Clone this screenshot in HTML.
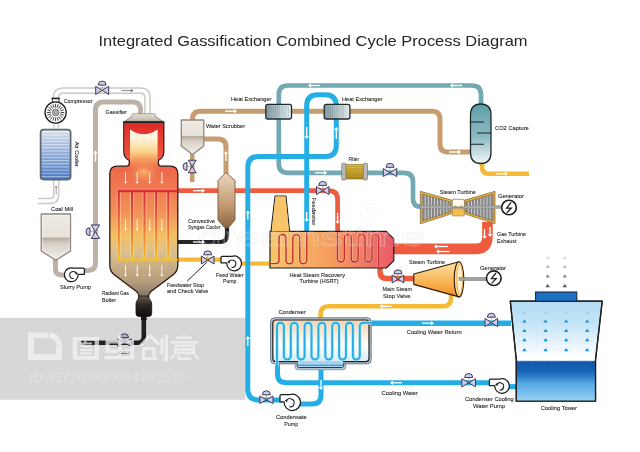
<!DOCTYPE html>
<html><head><meta charset="utf-8"><style>
html,body{margin:0;padding:0;background:#fff;}
svg{display:block;font-family:"Liberation Sans", sans-serif;}
</style></head><body>
<svg width="640" height="452" viewBox="0 0 640 452">
<rect width="640" height="452" fill="#fff"/>
<defs>
<linearGradient id="gTop" x1="0" y1="0" x2="0" y2="1">
 <stop offset="0" stop-color="#dc2a28"/><stop offset="0.3" stop-color="#e63a30"/><stop offset="1" stop-color="#ee5a42"/>
</linearGradient>
<radialGradient id="gGlow" cx="0.5" cy="0.55" r="0.6">
 <stop offset="0" stop-color="#fffbe8"/><stop offset="0.45" stop-color="#fde6b0"/><stop offset="1" stop-color="#f6a060" stop-opacity="0"/>
</radialGradient>
<linearGradient id="gBody" x1="0" y1="0" x2="0" y2="1">
 <stop offset="0" stop-color="#eb5243"/><stop offset="0.28" stop-color="#ee6a4c"/><stop offset="0.5" stop-color="#f29058"/><stop offset="0.64" stop-color="#f5c060"/><stop offset="0.73" stop-color="#dcc090"/><stop offset="0.9" stop-color="#b49c7c"/><stop offset="1" stop-color="#7a6a58"/>
</linearGradient>
<linearGradient id="gGlow2" x1="0" y1="0" x2="0" y2="1">
 <stop offset="0" stop-color="#fffaf2"/><stop offset="0.25" stop-color="#fff0d4"/><stop offset="0.55" stop-color="#fcd48a"/><stop offset="0.8" stop-color="#f7a860" stop-opacity="0.7"/><stop offset="1" stop-color="#f07050" stop-opacity="0"/>
</linearGradient>
<radialGradient id="gGlow3" cx="0.5" cy="0.5" r="0.5">
 <stop offset="0" stop-color="#f9c070" stop-opacity="0.9"/><stop offset="1" stop-color="#f08050" stop-opacity="0"/>
</radialGradient>
<linearGradient id="gTube" x1="0" y1="0" x2="0" y2="1">
 <stop offset="0" stop-color="#d9243a"/><stop offset="0.5" stop-color="#ec6a3a"/><stop offset="1" stop-color="#f7c21a"/>
</linearGradient>
<linearGradient id="gNeck" x1="0" y1="0" x2="0" y2="1">
 <stop offset="0" stop-color="#6a5c4c"/><stop offset="0.45" stop-color="#2a2622"/><stop offset="1" stop-color="#0e0e0e"/>
</linearGradient>
<linearGradient id="gCap" x1="0" y1="0" x2="0" y2="1">
 <stop offset="0" stop-color="#ebe6dc"/><stop offset="1" stop-color="#b5aca0"/>
</linearGradient>
<linearGradient id="gAir" x1="0" y1="0" x2="0" y2="1">
 <stop offset="0" stop-color="#e2e6ee"/><stop offset="0.4" stop-color="#a0b8de"/><stop offset="1" stop-color="#4878c4"/>
</linearGradient>
<pattern id="pStripe" width="4" height="3.2" patternUnits="userSpaceOnUse">
 <rect width="4" height="1.1" fill="#ffffff" fill-opacity="0.45"/><rect y="2.1" width="4" height="0.6" fill="#2a4a80" fill-opacity="0.15"/>
</pattern>
<linearGradient id="gMill" x1="0" y1="0" x2="0" y2="1">
 <stop offset="0" stop-color="#efebe5"/><stop offset="0.5" stop-color="#e6e0d8"/><stop offset="0.52" stop-color="#b5aa9e"/><stop offset="0.64" stop-color="#d8d0c6"/><stop offset="1" stop-color="#f2efea"/>
</linearGradient>
<linearGradient id="gScrub" x1="0" y1="0" x2="0" y2="1">
 <stop offset="0" stop-color="#efebe5"/><stop offset="0.45" stop-color="#e6e0d8"/><stop offset="0.47" stop-color="#b5aa9e"/><stop offset="0.62" stop-color="#d8d0c6"/><stop offset="1" stop-color="#f2efea"/>
</linearGradient>
<linearGradient id="gCool" x1="0" y1="0" x2="0" y2="1">
 <stop offset="0" stop-color="#e9d7c0"/><stop offset="0.6" stop-color="#c39a70"/><stop offset="1" stop-color="#8a6644"/>
</linearGradient>
<linearGradient id="gHX" x1="0" y1="0" x2="1" y2="0">
 <stop offset="0" stop-color="#7f9ba0"/><stop offset="0.5" stop-color="#b4c6ca"/><stop offset="1" stop-color="#eef2f3"/>
</linearGradient>
<pattern id="pHX" width="2.2" height="10" patternUnits="userSpaceOnUse">
 <rect width="0.7" height="10" fill="#30484e" fill-opacity="0.2"/>
</pattern>
<linearGradient id="gCO2" x1="0" y1="0" x2="0" y2="1">
 <stop offset="0" stop-color="#5f9ea8"/><stop offset="0.55" stop-color="#8dbac2"/><stop offset="1" stop-color="#f2f6f6"/>
</linearGradient>
<linearGradient id="gFilt" x1="0" y1="0" x2="0" y2="1">
 <stop offset="0" stop-color="#e1c040"/><stop offset="1" stop-color="#b08d20"/>
</linearGradient>
<linearGradient id="gHRSG" x1="0" y1="0" x2="1" y2="0">
 <stop offset="0" stop-color="#f8c66a"/><stop offset="0.5" stop-color="#f59c5c"/><stop offset="1" stop-color="#ea5a6a"/>
</linearGradient>
<linearGradient id="gCone" x1="0" y1="0" x2="0" y2="1">
 <stop offset="0" stop-color="#fde2a6"/><stop offset="0.6" stop-color="#f8b350"/><stop offset="1" stop-color="#f08a20"/>
</linearGradient>
<linearGradient id="gCond" x1="0" y1="0" x2="0" y2="1">
 <stop offset="0" stop-color="#f5d3a8"/><stop offset="0.6" stop-color="#ffffff"/><stop offset="1" stop-color="#d8ecf8"/>
</linearGradient>
<linearGradient id="gTowerTop" x1="0" y1="0" x2="0" y2="1">
 <stop offset="0" stop-color="#b2dbf4"/><stop offset="0.22" stop-color="#c4e4f7"/><stop offset="0.44" stop-color="#eaf5fc"/><stop offset="0.56" stop-color="#ffffff"/><stop offset="1" stop-color="#ffffff"/>
</linearGradient>
<linearGradient id="gWater" x1="0" y1="0" x2="0" y2="1">
 <stop offset="0" stop-color="#0f57a8"/><stop offset="0.28" stop-color="#1566b8"/><stop offset="0.58" stop-color="#5aaae4"/><stop offset="1" stop-color="#98d4f6"/>
</linearGradient>
</defs>
<text x="98.5" y="45.8" font-size="14.6" textLength="429" lengthAdjust="spacingAndGlyphs" fill="#262626" stroke="#262626" stroke-width="0" >Integrated Gassification Combined Cycle Process Diagram</text>
<path d="M56,98 L56.00,97.60 Q56,90.6 63.00,90.60 L140.50,90.60 Q147.5,90.6 147.50,97.60 L147.5,114" fill="none" stroke="#cdc8c2" stroke-width="6.6" />
<path d="M56,98 L56.00,97.60 Q56,90.6 63.00,90.60 L140.50,90.60 Q147.5,90.6 147.50,97.60 L147.5,114" fill="none" stroke="#fff" stroke-width="3.6" />
<path d="M56.2,179 L56.20,195.00 Q56.2,201 50.20,201.00 L38,201" fill="none" stroke="#cdc8c2" stroke-width="6.4" />
<path d="M56.2,179 L56.20,195.00 Q56.2,201 50.20,201.00 L38,201" fill="none" stroke="#fff" stroke-width="3.4" />
<path d="M53.8,123 V129.5 M58.2,123 V129.5" stroke="#cdc8c2" stroke-width="1.2"/>
<path d="M84,270.6 L87.50,270.60 Q95.5,270.6 95.50,262.60 L95.50,110.00 Q95.5,102 103.50,102.00 L132.50,102.00 Q140.5,102 140.50,110.00 L140.5,114" fill="none" stroke="#bcb2a7" stroke-width="5" />
<path d="M55.5,258 L55.50,269.00 Q55.5,275 61.50,275.00 L66,275" fill="none" stroke="#bcb2a7" stroke-width="5" />
<path d="M192.5,121 L192.50,119.20 Q192.5,111.2 200.50,111.20 L432.00,111.20 Q440,111.2 440.00,119.20 L440.00,144.00 Q440,152 448.00,152.00 L471,152" fill="none" stroke="#c79c6e" stroke-width="5" />
<path d="M203,139 L218.00,139.00 Q226,139 226.00,147.00 L226,174" fill="none" stroke="#c79c6e" stroke-width="5" />
<path d="M192.2,154 L192.2,182" fill="none" stroke="#c79c6e" stroke-width="4.5" />
<path d="M481,106 L481.00,94.50 Q481,85.5 472.00,85.50 L287.80,85.50 Q278.8,85.5 278.80,94.50 L278.80,163.80 Q278.8,172.8 287.80,172.80 L404.00,172.80 Q413,172.8 413.00,181.80 L413.00,198.80 Q413,206.8 421.00,206.80 L421,206.8" fill="none" stroke="#72a9b3" stroke-width="4.7" />
<path d="M177,190.7 L328.60,190.70 Q337.6,190.7 337.60,199.70 L337.6,232" fill="none" stroke="#ef5b3e" stroke-width="4.7" />
<path d="M487.4,222 L487.40,236.90 Q487.4,248.9 475.40,248.90 L392,248.9" fill="none" stroke="#ef5b3e" stroke-width="10.6" />
<path d="M380,266 L380.00,271.50 Q380,278.5 387.00,278.50 L414,278.5" fill="none" stroke="#ef5b3e" stroke-width="5.5" />
<path d="M177,259.6 L222,259.6" fill="none" stroke="#f6b935" stroke-width="4.2" />
<path d="M238,263.6 L270,263.6" fill="none" stroke="#f6b935" stroke-width="4.2" />
<path d="M482,162 L482.00,166.80 Q482,173.8 489.00,173.80 L529,173.8" fill="none" stroke="#f6b935" stroke-width="4.6" />
<path d="M320.6,319 L320.60,314.30 Q320.6,306.3 328.60,306.30 L443.00,306.30 Q451,306.3 451.00,298.30 L451,294" fill="none" stroke="#f6b935" stroke-width="4.6" />
<path d="M177,242 L220.00,242.00 Q227,242 227.00,235.00 L227,226" fill="none" stroke="#262626" stroke-width="4.2" />
<path d="M143.8,315 L143.80,336.70 Q143.8,342.7 137.80,342.70 L81,342.7" fill="none" stroke="#262626" stroke-width="4.6" />
<path d="M321,368 L321.00,394.90 Q321,403.9 312.00,403.90 L288,403.9" fill="none" stroke="#25aee6" stroke-width="5" />
<path d="M283,400 L258.80,400.00 Q247.8,400 247.80,389.00 L247.80,167.40 Q247.8,156.4 258.80,156.40 L325.30,156.40 Q336.3,156.4 336.30,145.40 L336.30,105.80 Q336.3,94.8 325.30,94.80 L317.70,94.80 Q306.7,94.8 306.70,105.80 L306.7,232" fill="none" stroke="#25aee6" stroke-width="5" />
<path d="M517,386.6 L498,386.6" fill="none" stroke="#25aee6" stroke-width="5" />
<path d="M492,382.8 L286.50,382.80 Q277.5,382.8 277.50,373.80 L277.5,362" fill="none" stroke="#25aee6" stroke-width="5" />
<path d="M370,323.2 L511,323.2" fill="none" stroke="#25aee6" stroke-width="5.4" />
<path d="M121.4,90.6 H132.4" stroke="#777" stroke-width="0.9"/><path d="M133.4,90.6 l-2.52,-1.8 v3.6 z" fill="#777"/>
<path d="M56.2,194.5 V186.5" stroke="#999" stroke-width="0.9"/><path d="M56.2,185.5 l-1.6,2.2399999999999998 h3.2 z" fill="#999"/>
<path d="M95.5,161.5 V151.5" stroke="#fff" stroke-width="1.3"/><path d="M95.5,150.5 l-2.2,3.08 h4.4 z" fill="#fff"/>
<path d="M225.0,111.2 H236.0" stroke="#fff" stroke-width="1.3"/><path d="M237.0,111.2 l-3.08,-2.2 v4.4 z" fill="#fff"/>
<path d="M226,161.0 V152.0" stroke="#fff" stroke-width="1.3"/><path d="M226,151.0 l-2.2,3.08 h4.4 z" fill="#fff"/>
<path d="M449.0,152 H460.0" stroke="#fff" stroke-width="1.3"/><path d="M461.0,152 l-3.08,-2.2 v4.4 z" fill="#fff"/>
<path d="M320.0,85.5 H309.0" stroke="#fff" stroke-width="1.3"/><path d="M308.0,85.5 l3.08,-2.2 v4.4 z" fill="#fff"/>
<path d="M462.0,85.5 H451.0" stroke="#fff" stroke-width="1.3"/><path d="M450.0,85.5 l3.08,-2.2 v4.4 z" fill="#fff"/>
<path d="M315.0,172.8 H326.0" stroke="#fff" stroke-width="1.3"/><path d="M327.0,172.8 l-3.08,-2.2 v4.4 z" fill="#fff"/>
<path d="M193.0,190.7 H204.0" stroke="#fff" stroke-width="1.3"/><path d="M205.0,190.7 l-3.08,-2.2 v4.4 z" fill="#fff"/>
<path d="M193.0,242 H204.0" stroke="#fff" stroke-width="1.3"/><path d="M205.0,242 l-3.08,-2.2 v4.4 z" fill="#fff"/>
<path d="M306.7,127.0 V138.0" stroke="#fff" stroke-width="1.3"/><path d="M306.7,139.0 l-2.2,-3.08 h4.4 z" fill="#fff"/>
<path d="M336.3,139.0 V128.0" stroke="#fff" stroke-width="1.3"/><path d="M336.3,127.0 l-2.2,3.08 h4.4 z" fill="#fff"/>
<path d="M306.7,212.0 V221.0" stroke="#fff" stroke-width="1.3"/><path d="M306.7,222.0 l-2.2,-3.08 h4.4 z" fill="#fff"/>
<path d="M337.6,213.0 V223.0" stroke="#fff" stroke-width="1.3"/><path d="M337.6,224.0 l-2.2,-3.08 h4.4 z" fill="#fff"/>
<path d="M247.8,219.5 V211.5" stroke="#fff" stroke-width="1.3"/><path d="M247.8,210.5 l-2.2,3.08 h4.4 z" fill="#fff"/>
<path d="M247.8,346.0 V337.0" stroke="#fff" stroke-width="1.3"/><path d="M247.8,336.0 l-2.2,3.08 h4.4 z" fill="#fff"/>
<path d="M321,380.0 V389.0" stroke="#fff" stroke-width="1.3"/><path d="M321,390.0 l-2.2,-3.08 h4.4 z" fill="#fff"/>
<path d="M422.0,323.2 H433.0" stroke="#fff" stroke-width="1.3"/><path d="M434.0,323.2 l-3.08,-2.2 v4.4 z" fill="#fff"/>
<path d="M402.0,382.8 H391.0" stroke="#fff" stroke-width="1.3"/><path d="M390.0,382.8 l3.08,-2.2 v4.4 z" fill="#fff"/>
<path d="M391.5,306.3 H380.5" stroke="#fff" stroke-width="1.3"/><path d="M379.5,306.3 l3.08,-2.2 v4.4 z" fill="#fff"/>
<path d="M496.0,173.8 H507.0" stroke="#fff" stroke-width="1.3"/><path d="M508.0,173.8 l-3.08,-2.2 v4.4 z" fill="#fff"/>
<path d="M484.5,229.0 V238.0" stroke="#fff" stroke-width="1.3"/><path d="M484.5,239.0 l-2.2,-3.08 h4.4 z" fill="#fff"/>
<path d="M490,227.0 V236.0" stroke="#fff" stroke-width="1.3"/><path d="M490,237.0 l-2.2,-3.08 h4.4 z" fill="#fff"/>
<path d="M448.0,246.5 H435.0" stroke="#fff" stroke-width="1.3"/><path d="M434.0,246.5 l3.08,-2.2 v4.4 z" fill="#fff"/>
<path d="M450.0,251.5 H437.0" stroke="#fff" stroke-width="1.3"/><path d="M436.0,251.5 l3.08,-2.2 v4.4 z" fill="#fff"/>
<rect x="52.3" y="98.6" width="6.7" height="3.8" fill="#fff" stroke="#222" stroke-width="0.9"/>
<rect x="51.6" y="97.6" width="8.1" height="1.6" fill="#222"/>
<circle cx="55.6" cy="112.5" r="10.6" fill="#fff" stroke="#1e1e1e" stroke-width="1.3"/>
<line x1="60.60" y1="112.50" x2="64.30" y2="112.50" stroke="#3a3a3a" stroke-width="0.95"/>
<line x1="60.36" y1="114.05" x2="63.87" y2="115.19" stroke="#3a3a3a" stroke-width="0.95"/>
<line x1="59.65" y1="115.44" x2="62.64" y2="117.61" stroke="#3a3a3a" stroke-width="0.95"/>
<line x1="58.54" y1="116.55" x2="60.71" y2="119.54" stroke="#3a3a3a" stroke-width="0.95"/>
<line x1="57.15" y1="117.26" x2="58.29" y2="120.77" stroke="#3a3a3a" stroke-width="0.95"/>
<line x1="55.60" y1="117.50" x2="55.60" y2="121.20" stroke="#3a3a3a" stroke-width="0.95"/>
<line x1="54.05" y1="117.26" x2="52.91" y2="120.77" stroke="#3a3a3a" stroke-width="0.95"/>
<line x1="52.66" y1="116.55" x2="50.49" y2="119.54" stroke="#3a3a3a" stroke-width="0.95"/>
<line x1="51.55" y1="115.44" x2="48.56" y2="117.61" stroke="#3a3a3a" stroke-width="0.95"/>
<line x1="50.84" y1="114.05" x2="47.33" y2="115.19" stroke="#3a3a3a" stroke-width="0.95"/>
<line x1="50.60" y1="112.50" x2="46.90" y2="112.50" stroke="#3a3a3a" stroke-width="0.95"/>
<line x1="50.84" y1="110.95" x2="47.33" y2="109.81" stroke="#3a3a3a" stroke-width="0.95"/>
<line x1="51.55" y1="109.56" x2="48.56" y2="107.39" stroke="#3a3a3a" stroke-width="0.95"/>
<line x1="52.66" y1="108.45" x2="50.49" y2="105.46" stroke="#3a3a3a" stroke-width="0.95"/>
<line x1="54.05" y1="107.74" x2="52.91" y2="104.23" stroke="#3a3a3a" stroke-width="0.95"/>
<line x1="55.60" y1="107.50" x2="55.60" y2="103.80" stroke="#3a3a3a" stroke-width="0.95"/>
<line x1="57.15" y1="107.74" x2="58.29" y2="104.23" stroke="#3a3a3a" stroke-width="0.95"/>
<line x1="58.54" y1="108.45" x2="60.71" y2="105.46" stroke="#3a3a3a" stroke-width="0.95"/>
<line x1="59.65" y1="109.56" x2="62.64" y2="107.39" stroke="#3a3a3a" stroke-width="0.95"/>
<line x1="60.36" y1="110.95" x2="63.87" y2="109.81" stroke="#3a3a3a" stroke-width="0.95"/>
<circle cx="55.6" cy="112.5" r="3.3" fill="#a9a9a9" stroke="#555" stroke-width="0.7"/>
<rect x="40.6" y="129.6" width="30" height="50" rx="3" fill="url(#gAir)" stroke="#5d6874" stroke-width="1.7"/>
<rect x="42" y="131" width="27.2" height="47.2" fill="url(#pStripe)"/>
<text x="0" y="0" font-size="6" textLength="25" lengthAdjust="spacingAndGlyphs" fill="#262626" stroke="#262626" stroke-width="0.1" transform="translate(74.6,141.7) rotate(90)">Air Cooler</text>
<path d="M41.2,214 H70.5 V251 L55.8,260.3 L41.2,251 Z" fill="url(#gMill)" stroke="#8f8880" stroke-width="1.3" stroke-linejoin="round"/>
<path d="M42.8,215.5 H68.9 V250.2 L55.8,258.4 L42.8,250.2 Z" fill="none" stroke="#fff" stroke-width="0.6" stroke-opacity="0.7"/>
<path d="M73.2,268.1 H83.2 Q84.4,268.1 84.4,269.3 V274.31 H78.17 A6.9,6.9 0 1 1 73.2,268.1 Z" fill="#fff" stroke="#1e1e1e" stroke-width="1.25" stroke-linejoin="round"/>
<path d="M76.31,273.62 A3.45,3.45 0 1 0 73.72,278.45" fill="none" stroke="#1e1e1e" stroke-width="1.05"/>
<path d="M77.91,273.32 l-2.40,-1.7 l0.2,3.3 z" fill="#1e1e1e"/>
<path d="M91.15,224.95 L95.4,231.7 L99.65,224.95 Z M91.15,238.45 L95.4,231.7 L99.65,238.45 Z" fill="#d0cbec" stroke="#2e2e4a" stroke-width="0.9" stroke-linejoin="round"/>
<path d="M95.4,231.7 H89.65" stroke="#999" stroke-width="0.7"/>
<path d="M89.95,227.7 A4,4 0 0 0 89.95,235.7 Z" fill="#d0cbec" stroke="#2e2e4a" stroke-width="0.9"/>
<path d="M132,113.8 H155 V116.2 L163.8,122 H123.8 L132,116.2 Z" fill="url(#gCap)" stroke="#555" stroke-width="0.6"/>
<rect x="132" y="113.8" width="23" height="2.4" fill="#d8d2c8"/>
<path d="M123.8,122 H163.8 V151 Q163.8,158.3 158.3,160.3 V163 Q158.3,166.2 162,166.2 H170 Q177.8,166.2 177.8,174 V265 Q177.8,271 173.5,274.5 L151,291.5 Q148.5,293.5 148.5,296.5 V300 H139 V296.5 Q139,293.5 136.5,291.5 L114,274.5 Q109.8,271 109.8,265 V174 Q109.8,166.2 117.5,166.2 H125.6 Q129.3,166.2 129.3,163 V160.3 Q123.8,158.3 123.8,151 Z" fill="url(#gBody)" stroke="#2a1a14" stroke-width="1.3" stroke-linejoin="round"/>
<path d="M124.5,122.7 H163.1 V151 Q163.1,157.8 157.6,159.8 V164 H130 V159.8 Q124.5,157.8 124.5,151 Z" fill="url(#gTop)"/>
<ellipse cx="143.8" cy="172" rx="17" ry="13" fill="url(#gGlow3)"/>
<path d="M130,129.5 Q143.8,139 157.6,129.5 V170 H130 Z" fill="url(#gGlow2)"/>
<line x1="123.8" y1="122.4" x2="163.8" y2="122.4" stroke="#222" stroke-width="1.1"/>
<rect x="116.8" y="190" width="4" height="70.5" fill="#fbe0c0" fill-opacity="0.45"/>
<rect x="130" y="190" width="4" height="70.5" fill="#fbe0c0" fill-opacity="0.45"/>
<rect x="142.5" y="190" width="4" height="70.5" fill="#fbe0c0" fill-opacity="0.45"/>
<rect x="154.2" y="190" width="4" height="70.5" fill="#fbe0c0" fill-opacity="0.45"/>
<rect x="166.3" y="190" width="4" height="70.5" fill="#fbe0c0" fill-opacity="0.45"/>
<rect x="117.8" y="190.2" width="2" height="70" fill="url(#gTube)"/>
<rect x="131" y="190.2" width="2" height="70" fill="url(#gTube)"/>
<rect x="143.5" y="190.2" width="2" height="70" fill="url(#gTube)"/>
<rect x="155.2" y="190.2" width="2" height="70" fill="url(#gTube)"/>
<rect x="167.3" y="190.2" width="2" height="70" fill="url(#gTube)"/>
<rect x="117.8" y="190.2" width="60" height="2" fill="#d9243a"/>
<rect x="117.8" y="258.6" width="60" height="2" fill="#f7c21a"/>
<path d="M125.5,172.25 V182.75" stroke="#fff" stroke-width="0.9"/><path d="M125.5,183.75 l-1.5,-2.0999999999999996 h3.0 z" fill="#fff"/>
<path d="M125.5,219.25 V229.75" stroke="#fff" stroke-width="0.9"/><path d="M125.5,230.75 l-1.5,-2.0999999999999996 h3.0 z" fill="#fff"/>
<path d="M125.5,265.25 V275.75" stroke="#fff" stroke-width="0.9"/><path d="M125.5,276.75 l-1.5,-2.0999999999999996 h3.0 z" fill="#fff"/>
<path d="M137.2,172.25 V182.75" stroke="#fff" stroke-width="0.9"/><path d="M137.2,183.75 l-1.5,-2.0999999999999996 h3.0 z" fill="#fff"/>
<path d="M137.2,219.25 V229.75" stroke="#fff" stroke-width="0.9"/><path d="M137.2,230.75 l-1.5,-2.0999999999999996 h3.0 z" fill="#fff"/>
<path d="M137.2,265.25 V275.75" stroke="#fff" stroke-width="0.9"/><path d="M137.2,276.75 l-1.5,-2.0999999999999996 h3.0 z" fill="#fff"/>
<path d="M149.7,172.25 V182.75" stroke="#fff" stroke-width="0.9"/><path d="M149.7,183.75 l-1.5,-2.0999999999999996 h3.0 z" fill="#fff"/>
<path d="M149.7,219.25 V229.75" stroke="#fff" stroke-width="0.9"/><path d="M149.7,230.75 l-1.5,-2.0999999999999996 h3.0 z" fill="#fff"/>
<path d="M149.7,265.25 V275.75" stroke="#fff" stroke-width="0.9"/><path d="M149.7,276.75 l-1.5,-2.0999999999999996 h3.0 z" fill="#fff"/>
<path d="M161.9,172.25 V182.75" stroke="#fff" stroke-width="0.9"/><path d="M161.9,183.75 l-1.5,-2.0999999999999996 h3.0 z" fill="#fff"/>
<path d="M161.9,219.25 V229.75" stroke="#fff" stroke-width="0.9"/><path d="M161.9,230.75 l-1.5,-2.0999999999999996 h3.0 z" fill="#fff"/>
<path d="M161.9,265.25 V275.75" stroke="#fff" stroke-width="0.9"/><path d="M161.9,276.75 l-1.5,-2.0999999999999996 h3.0 z" fill="#fff"/>
<path d="M139,296 H148.5 Q149,299 150.5,300.5 Q151.7,301.8 151.7,304 V313.5 Q151.7,316.5 148.7,316.5 H139 Q136,316.5 136,313.5 V304 Q136,301.8 137.2,300.5 Q138.5,299 139,296 Z" fill="url(#gNeck)" stroke="#111" stroke-width="0.8"/>
<rect x="141" y="316" width="5.6" height="4" fill="#151515"/>
<path d="M181.3,120 H203.8 V146 L192.5,154.4 L181.3,146 Z" fill="url(#gScrub)" stroke="#8f8880" stroke-width="1.3" stroke-linejoin="round"/>
<path d="M188.2,160.25 L192.2,166.5 L196.2,160.25 Z M188.2,172.75 L192.2,166.5 L196.2,172.75 Z" fill="#d0cbec" stroke="#2e2e4a" stroke-width="0.9" stroke-linejoin="round"/>
<path d="M192.2,166.5 H186.7" stroke="#999" stroke-width="0.7"/>
<path d="M187.0,162.5 A4,4 0 0 0 187.0,170.5 Z" fill="#d0cbec" stroke="#2e2e4a" stroke-width="0.9"/>
<path d="M226,172.5 L235,180.6 V220 L228.5,227.5 H224.5 L218,220 V180.6 Z" fill="url(#gCool)" stroke="#7a5a3a" stroke-width="0.9" stroke-linejoin="round"/>
<path d="M201.39999999999998,256.0 L207.7,260 L201.39999999999998,264.0 Z M214.0,256.0 L207.7,260 L214.0,264.0 Z" fill="#d0cbec" stroke="#2e2e4a" stroke-width="0.9" stroke-linejoin="round"/>
<path d="M207.7,260 V254.5" stroke="#999" stroke-width="0.7"/>
<path d="M203.7,254.8 A4,4 0 0 1 211.7,254.8 Z" fill="#d0cbec" stroke="#2e2e4a" stroke-width="0.9"/>
<path d="M206.9,262.2 L187.3,281" stroke="#222" stroke-width="1.0"/>
<path d="M232.1,256.3 H222.2 Q221.0,256.3 221.0,257.5 V262.96000000000004 H226.77 A7.4,7.4 0 1 0 232.1,256.3 Z" fill="#fff" stroke="#1e1e1e" stroke-width="1.25" stroke-linejoin="round"/>
<path d="M228.77,262.22 A3.70,3.70 0 1 1 231.54,267.40" fill="none" stroke="#1e1e1e" stroke-width="1.05"/>
<path d="M227.17,261.92 l2.40,-1.7 l0.2,3.3 z" fill="#1e1e1e"/>
<rect x="265.8" y="104.4" width="25.7" height="14.6" rx="2" fill="url(#gHX)" stroke="#1f2a2e" stroke-width="1.3"/>
<rect x="267.3" y="105.8" width="22.7" height="11.8" fill="url(#pHX)"/>
<rect x="324.2" y="104.4" width="25.7" height="14.6" rx="2" fill="url(#gHX)" stroke="#1f2a2e" stroke-width="1.3"/>
<rect x="325.7" y="105.8" width="22.7" height="11.8" fill="url(#pHX)"/>
<path d="M470.5,115 C470.5,107 475,104 480.8,104 C486.5,104 491,107 491,115 V152.5 C491,160.5 486.5,163.5 480.8,163.5 C475,163.5 470.5,160.5 470.5,152.5 Z" fill="url(#gCO2)" stroke="#1f2a2e" stroke-width="1.3"/>
<path d="M470.5,122 H484 M477,133 H491 M470.5,144.3 H484" stroke="#1a2226" stroke-width="1.1"/>
<rect x="344.5" y="164.5" width="20" height="14.5" fill="url(#gFilt)" stroke="#7a6418" stroke-width="0.6"/>
<line x1="345" y1="166.5" x2="364" y2="166.5" stroke="#8a7018" stroke-width="0.5" stroke-opacity="0.6"/>
<line x1="345" y1="168.7" x2="364" y2="168.7" stroke="#8a7018" stroke-width="0.5" stroke-opacity="0.6"/>
<line x1="345" y1="170.9" x2="364" y2="170.9" stroke="#8a7018" stroke-width="0.5" stroke-opacity="0.6"/>
<line x1="345" y1="173.1" x2="364" y2="173.1" stroke="#8a7018" stroke-width="0.5" stroke-opacity="0.6"/>
<line x1="345" y1="175.3" x2="364" y2="175.3" stroke="#8a7018" stroke-width="0.5" stroke-opacity="0.6"/>
<line x1="345" y1="177.5" x2="364" y2="177.5" stroke="#8a7018" stroke-width="0.5" stroke-opacity="0.6"/>
<rect x="341.7" y="163.2" width="4.2" height="16.8" rx="1.2" fill="#b9b9b9" stroke="#666" stroke-width="0.6"/>
<rect x="363.3" y="163.2" width="4.2" height="16.8" rx="1.2" fill="#b9b9b9" stroke="#666" stroke-width="0.6"/>
<path d="M383.25,168.5 L390,172.5 L383.25,176.5 Z M396.75,168.5 L390,172.5 L396.75,176.5 Z" fill="#d0cbec" stroke="#2e2e4a" stroke-width="0.9" stroke-linejoin="round"/>
<path d="M390,172.5 V167.0" stroke="#999" stroke-width="0.7"/>
<path d="M386,167.3 A4,4 0 0 1 394,167.3 Z" fill="#d0cbec" stroke="#2e2e4a" stroke-width="0.9"/>
<path d="M316.45,186.6 L322.7,190.6 L316.45,194.6 Z M328.95,186.6 L322.7,190.6 L328.95,194.6 Z" fill="#d0cbec" stroke="#2e2e4a" stroke-width="0.9" stroke-linejoin="round"/>
<path d="M322.7,190.6 V185.1" stroke="#999" stroke-width="0.7"/>
<path d="M318.7,185.4 A4,4 0 0 1 326.7,185.4 Z" fill="#d0cbec" stroke="#2e2e4a" stroke-width="0.9"/>
<path d="M420.3,191.3 L452.3,200.3 V213.6 L420.3,223.8 Z M495,191.3 L464,200.3 V213.6 L495,223.8 Z" fill="#f2b33a" stroke="#5a4a2a" stroke-width="0.6" stroke-linejoin="round"/>
<clipPath id="cpT"><path d="M422.2,194.2 L450.6,202 V212 L422.2,221 Z M493.1,194.2 L465.7,202 V212 L493.1,221 Z"/></clipPath>
<path d="M422.2,194.2 L450.6,202 V212 L422.2,221 Z M493.1,194.2 L465.7,202 V212 L493.1,221 Z" fill="#d2d2d2"/>
<g clip-path="url(#cpT)">
<rect x="422.60" y="190" width="2.1" height="35" fill="#858585"/>
<rect x="490.60" y="190" width="2.1" height="35" fill="#858585"/>
<rect x="425.70" y="190" width="2.1" height="35" fill="#858585"/>
<rect x="487.50" y="190" width="2.1" height="35" fill="#858585"/>
<rect x="428.80" y="190" width="2.1" height="35" fill="#858585"/>
<rect x="484.40" y="190" width="2.1" height="35" fill="#858585"/>
<rect x="431.90" y="190" width="2.1" height="35" fill="#858585"/>
<rect x="481.30" y="190" width="2.1" height="35" fill="#858585"/>
<rect x="435.00" y="190" width="2.1" height="35" fill="#858585"/>
<rect x="478.20" y="190" width="2.1" height="35" fill="#858585"/>
<rect x="438.10" y="190" width="2.1" height="35" fill="#858585"/>
<rect x="475.10" y="190" width="2.1" height="35" fill="#858585"/>
<rect x="441.20" y="190" width="2.1" height="35" fill="#858585"/>
<rect x="472.00" y="190" width="2.1" height="35" fill="#858585"/>
<rect x="444.30" y="190" width="2.1" height="35" fill="#858585"/>
<rect x="468.90" y="190" width="2.1" height="35" fill="#858585"/>
<rect x="447.40" y="190" width="2.1" height="35" fill="#858585"/>
<rect x="465.80" y="190" width="2.1" height="35" fill="#858585"/>
<rect x="450.50" y="190" width="2.1" height="35" fill="#858585"/>
<rect x="462.70" y="190" width="2.1" height="35" fill="#858585"/>
</g>
<path d="M422.2,194.2 L450.6,202 V212 L422.2,221 Z M493.1,194.2 L465.7,202 V212 L493.1,221 Z" fill="none" stroke="#5a4a2a" stroke-width="0.5" stroke-linejoin="round"/>
<rect x="420" y="205.6" width="82" height="2.9" fill="#a9a9a9" stroke="#808080" stroke-width="0.4"/>
<path d="M453,199.3 H463.6 L464.4,201 V207 H452.2 V201 Z" fill="#fffbe6" stroke="#6a5a3a" stroke-width="0.6"/>
<path d="M455,205.5 l1.5,2 M461.6,205.5 l-1.5,2" stroke="#555" stroke-width="0.8"/>
<path d="M452.4,216 V210.2 L455,208.2 L456.7,210.4 L458.3,207.6 L460,210.4 L461.7,208.2 L464.2,210.2 V216 Z" fill="#f6bb48" stroke="#b08a3a" stroke-width="0.6" stroke-linejoin="round"/>
<circle cx="509" cy="207.5" r="7.3" fill="#fff" stroke="#1e1e1e" stroke-width="1.6"/>
<path d="M511.2,202.3 L506.6,208 H511.4 L506.8,212.7" fill="none" stroke="#1e1e1e" stroke-width="1.25"/>
<path d="M271,231 L275,196 H286 L289.5,231 Z" fill="#f8c46a" stroke="#1e1e1e" stroke-width="1.1" stroke-linejoin="round"/>
<path d="M270,231.3 H386.3 L393.8,238.8 V260.6 L386.3,268 H270 Z" fill="url(#gHRSG)" stroke="#1e1e1e" stroke-width="1.2" stroke-linejoin="round"/>
<path d="M271.7,231.6 L275.4,196.6 H285.6 L289,231.6 Z" fill="#f8c46a"/>
<path d="M270.5,263.6 L275.5,263.6 Q279,263.6 279,260 L279,238.0 A3.5,3.5 0 0 1 286,238.0 L286,260.4 A3.4000000000000057,3.4000000000000057 0 0 0 292.8,260.4 L292.8,238.0 A3.5,3.5 0 0 1 299.8,238.0 L299.8,260.3 A3.5,3.5 0 0 0 306.8,260.3 L306.8,232" fill="none" stroke="#fde0c0" stroke-width="2.6" stroke-opacity="0.6"/>
<path d="M270.5,263.6 L275.5,263.6 Q279,263.6 279,260 L279,238.0 A3.5,3.5 0 0 1 286,238.0 L286,260.4 A3.4000000000000057,3.4000000000000057 0 0 0 292.8,260.4 L292.8,238.0 A3.5,3.5 0 0 1 299.8,238.0 L299.8,260.3 A3.5,3.5 0 0 0 306.8,260.3 L306.8,232" fill="none" stroke="#c42a2a" stroke-width="1.4"/>
<path d="M337.4,232 L337.4,258.54999999999995 A3.450000000000017,3.450000000000017 0 0 0 344.3,258.54999999999995 L344.3,237.95 A3.4499999999999886,3.4499999999999886 0 0 1 351.2,237.95 L351.2,258.54999999999995 A3.450000000000017,3.450000000000017 0 0 0 358.1,258.54999999999995 L358.1,237.95 A3.4499999999999886,3.4499999999999886 0 0 1 365.0,237.95 L365.0,258.55 A3.4499999999999886,3.4499999999999886 0 0 0 371.9,258.55 L371.9,237.95000000000002 A3.450000000000017,3.450000000000017 0 0 1 378.8,237.95000000000002 L378.8,268" fill="none" stroke="#fde0e0" stroke-width="2.6" stroke-opacity="0.5"/>
<path d="M337.4,232 L337.4,258.54999999999995 A3.450000000000017,3.450000000000017 0 0 0 344.3,258.54999999999995 L344.3,237.95 A3.4499999999999886,3.4499999999999886 0 0 1 351.2,237.95 L351.2,258.54999999999995 A3.450000000000017,3.450000000000017 0 0 0 358.1,258.54999999999995 L358.1,237.95 A3.4499999999999886,3.4499999999999886 0 0 1 365.0,237.95 L365.0,258.55 A3.4499999999999886,3.4499999999999886 0 0 0 371.9,258.55 L371.9,237.95000000000002 A3.450000000000017,3.450000000000017 0 0 1 378.8,237.95000000000002 L378.8,268" fill="none" stroke="#c42a2a" stroke-width="1.4"/>
<text x="0" y="0" font-size="6" textLength="27.5" lengthAdjust="spacingAndGlyphs" fill="#262626" stroke="#262626" stroke-width="0.1" transform="translate(312.4,197.6) rotate(90)">Feedwater</text>
<path d="M413.8,274 L459,261.7 V296.9 L413.8,284.4 Z" fill="url(#gCone)" stroke="#2a1a10" stroke-width="1.1" stroke-linejoin="round"/>
<ellipse cx="459" cy="279.3" rx="4.8" ry="17.6" fill="#fbd48a" stroke="#2a1a10" stroke-width="1.1"/>
<ellipse cx="459.8" cy="279.3" rx="2.8" ry="14.8" fill="#fff3d6" stroke="#f0a030" stroke-width="0.8"/>
<rect x="459" y="277.3" width="28" height="3.4" fill="#a0a0a0" stroke="#777" stroke-width="0.4"/>
<path d="M392.2,275.0 L398,279 L392.2,283.0 Z M403.8,275.0 L398,279 L403.8,283.0 Z" fill="#d0cbec" stroke="#2e2e4a" stroke-width="0.9" stroke-linejoin="round"/>
<path d="M398,279 V273.5" stroke="#999" stroke-width="0.7"/>
<path d="M394,273.8 A4,4 0 0 1 402,273.8 Z" fill="#d0cbec" stroke="#2e2e4a" stroke-width="0.9"/>
<circle cx="493.8" cy="278.2" r="7.3" fill="#fff" stroke="#1e1e1e" stroke-width="1.6"/>
<path d="M496,273 L491.4,278.7 H496.2 L491.6,283.4" fill="none" stroke="#1e1e1e" stroke-width="1.25"/>
<path d="M295.5,361 V366.5 Q295.5,369.5 298.5,369.5 H342.5 Q345.5,369.5 345.5,366.5 V361 Z" fill="#cfe6f5" stroke="#9aa8b2" stroke-width="1.6"/>
<path d="M297.3,361 V365.5 Q297.3,367.6 299.4,367.6 H341.6 Q343.7,367.6 343.7,365.5 V361 Z" fill="#b8dcf4" stroke="#1e2a34" stroke-width="1"/>
<rect x="270.6" y="317.8" width="100.6" height="46" rx="4" fill="#b9c6cf" stroke="#6a7a86" stroke-width="1"/>
<rect x="272.8" y="320" width="96.2" height="41.6" rx="3" fill="url(#gCond)" stroke="#1e1e1e" stroke-width="1.2"/>
<rect x="298" y="361" width="45" height="6" fill="#a8d4f0"/>
<path d="M298.5,365.5 q1.5,-1.2 3,0 q1.5,-1.2 3,0 q1.5,-1.2 3,0 q1.5,-1.2 3,0 q1.5,-1.2 3,0 q1.5,-1.2 3,0 q1.5,-1.2 3,0 q1.5,-1.2 3,0 q1.5,-1.2 3,0 q1.5,-1.2 3,0 q1.5,-1.2 3,0 q1.5,-1.2 3,0 q1.5,-1.2 3,0 q1.5,-1.2 3,0 q1.5,-1.2 3,0" fill="none" stroke="#1e6fc0" stroke-width="0.9"/>
<path d="M277,366 L277,326.15 A3.45,3.45 0 0 1 283.90,326.15 L283.90,356.05 A3.45,3.45 0 0 0 290.80,356.05 L290.80,326.15 A3.45,3.45 0 0 1 297.70,326.15 L297.70,356.05 A3.45,3.45 0 0 0 304.60,356.05 L304.60,326.15 A3.45,3.45 0 0 1 311.50,326.15 L311.50,356.05 A3.45,3.45 0 0 0 318.40,356.05 L318.40,326.15 A3.45,3.45 0 0 1 325.30,326.15 L325.30,356.05 A3.45,3.45 0 0 0 332.20,356.05 L332.20,326.15 A3.45,3.45 0 0 1 339.10,326.15 L339.10,356.05 A3.45,3.45 0 0 0 346.00,356.05 L346.00,326.15 A3.45,3.45 0 0 1 352.90,326.15 L352.90,356.05 A3.45,3.45 0 0 0 359.80,356.05 L359.80,326.15 A3.45,3.45 0 0 1 363.25,322.7 L372,322.7" fill="none" stroke="#bfe8f8" stroke-width="3.4"/>
<path d="M277,366 L277,326.15 A3.45,3.45 0 0 1 283.90,326.15 L283.90,356.05 A3.45,3.45 0 0 0 290.80,356.05 L290.80,326.15 A3.45,3.45 0 0 1 297.70,326.15 L297.70,356.05 A3.45,3.45 0 0 0 304.60,356.05 L304.60,326.15 A3.45,3.45 0 0 1 311.50,326.15 L311.50,356.05 A3.45,3.45 0 0 0 318.40,356.05 L318.40,326.15 A3.45,3.45 0 0 1 325.30,326.15 L325.30,356.05 A3.45,3.45 0 0 0 332.20,356.05 L332.20,326.15 A3.45,3.45 0 0 1 339.10,326.15 L339.10,356.05 A3.45,3.45 0 0 0 346.00,356.05 L346.00,326.15 A3.45,3.45 0 0 1 352.90,326.15 L352.90,356.05 A3.45,3.45 0 0 0 359.80,356.05 L359.80,326.15 A3.45,3.45 0 0 1 363.25,322.7 L372,322.7" fill="none" stroke="#25aee6" stroke-width="1.9"/>
<path d="M259.79999999999995,396.0 L266.4,399.8 L259.79999999999995,403.6 Z M273.0,396.0 L266.4,399.8 L273.0,403.6 Z" fill="#d0cbec" stroke="#2e2e4a" stroke-width="0.9" stroke-linejoin="round"/>
<path d="M266.4,399.8 V394.5" stroke="#999" stroke-width="0.7"/>
<path d="M262.4,394.8 A4,4 0 0 1 270.4,394.8 Z" fill="#d0cbec" stroke="#2e2e4a" stroke-width="0.9"/>
<path d="M290,394.5 H281.2 Q280,394.5 280,395.7 V401.88 H284.10 A8.2,8.2 0 1 0 290,394.5 Z" fill="#fff" stroke="#1e1e1e" stroke-width="1.25" stroke-linejoin="round"/>
<path d="M286.31,401.06 A4.10,4.10 0 1 1 289.38,406.80" fill="none" stroke="#1e1e1e" stroke-width="1.05"/>
<path d="M284.71,400.76 l2.40,-1.7 l0.2,3.3 z" fill="#1e1e1e"/>
<path d="M510.3,301.2 H602.2 L595.5,360 V401.2 H516.3 V360 Z" fill="url(#gTowerTop)" stroke="#1e1e1e" stroke-width="1.3" stroke-linejoin="round"/>
<path d="M516.3,360.5 H595.5 V401.2 H516.3 Z" fill="url(#gWater)"/>
<path d="M516.3,361 q1.45,-1.6 2.9,0 q1.45,-1.6 2.9,0 q1.45,-1.6 2.9,0 q1.45,-1.6 2.9,0 q1.45,-1.6 2.9,0 q1.45,-1.6 2.9,0 q1.45,-1.6 2.9,0 q1.45,-1.6 2.9,0 q1.45,-1.6 2.9,0 q1.45,-1.6 2.9,0 q1.45,-1.6 2.9,0 q1.45,-1.6 2.9,0 q1.45,-1.6 2.9,0 q1.45,-1.6 2.9,0 q1.45,-1.6 2.9,0 q1.45,-1.6 2.9,0 q1.45,-1.6 2.9,0 q1.45,-1.6 2.9,0 q1.45,-1.6 2.9,0 q1.45,-1.6 2.9,0 q1.45,-1.6 2.9,0 q1.45,-1.6 2.9,0 q1.45,-1.6 2.9,0 q1.45,-1.6 2.9,0 q1.45,-1.6 2.9,0 q1.45,-1.6 2.9,0 q1.45,-1.6 2.9,0" fill="none" stroke="#fff" stroke-width="0.9"/>
<path d="M510.3,301.2 H602.2 L595.5,360 V401.2 H516.3 V360 Z" fill="none" stroke="#1e1e1e" stroke-width="1.3" stroke-linejoin="round"/>
<rect x="535.6" y="292" width="41.2" height="9.2" fill="#1c6fc2" stroke="#10223a" stroke-width="1"/>
<path d="M522.1999999999999,322.6 L524.4,319.4 L526.6,322.6 Z" fill="#1b8fd6"/>
<path d="M522.1999999999999,331.90000000000003 L524.4,328.7 L526.6,331.90000000000003 Z" fill="#1b8fd6"/>
<path d="M522.1999999999999,341.3 L524.4,338.09999999999997 L526.6,341.3 Z" fill="#1b8fd6"/>
<path d="M522.1999999999999,351.3 L524.4,348.09999999999997 L526.6,351.3 Z" fill="#1b8fd6"/>
<path d="M522.6,313.5 L524.4,311.5 L526.1999999999999,313.5 Z" fill="#9cc8e8"/>
<path d="M543.4,322.6 L545.6,319.4 L547.8000000000001,322.6 Z" fill="#1b8fd6"/>
<path d="M543.4,331.90000000000003 L545.6,328.7 L547.8000000000001,331.90000000000003 Z" fill="#1b8fd6"/>
<path d="M543.4,341.3 L545.6,338.09999999999997 L547.8000000000001,341.3 Z" fill="#1b8fd6"/>
<path d="M543.4,351.3 L545.6,348.09999999999997 L547.8000000000001,351.3 Z" fill="#1b8fd6"/>
<path d="M543.8000000000001,313.5 L545.6,311.5 L547.4,313.5 Z" fill="#9cc8e8"/>
<path d="M564.0,322.6 L566.2,319.4 L568.4000000000001,322.6 Z" fill="#1b8fd6"/>
<path d="M564.0,331.90000000000003 L566.2,328.7 L568.4000000000001,331.90000000000003 Z" fill="#1b8fd6"/>
<path d="M564.0,341.3 L566.2,338.09999999999997 L568.4000000000001,341.3 Z" fill="#1b8fd6"/>
<path d="M564.0,351.3 L566.2,348.09999999999997 L568.4000000000001,351.3 Z" fill="#1b8fd6"/>
<path d="M564.4000000000001,313.5 L566.2,311.5 L568.0,313.5 Z" fill="#9cc8e8"/>
<path d="M585.0,322.6 L587.2,319.4 L589.4000000000001,322.6 Z" fill="#1b8fd6"/>
<path d="M585.0,331.90000000000003 L587.2,328.7 L589.4000000000001,331.90000000000003 Z" fill="#1b8fd6"/>
<path d="M585.0,341.3 L587.2,338.09999999999997 L589.4000000000001,341.3 Z" fill="#1b8fd6"/>
<path d="M585.0,351.3 L587.2,348.09999999999997 L589.4000000000001,351.3 Z" fill="#1b8fd6"/>
<path d="M585.4000000000001,313.5 L587.2,311.5 L589.0,313.5 Z" fill="#9cc8e8"/>
<path d="M545.5,259.1 L547.7,255.9 L549.9000000000001,259.1 Z" fill="#dadada"/>
<path d="M545.5,268.0 L547.7,264.79999999999995 L549.9000000000001,268.0 Z" fill="#bdbdbd"/>
<path d="M545.5,277.40000000000003 L547.7,274.2 L549.9000000000001,277.40000000000003 Z" fill="#8a8a8a"/>
<path d="M545.5,287.20000000000005 L547.7,284.0 L549.9000000000001,287.20000000000005 Z" fill="#555"/>
<path d="M562.5999999999999,259.1 L564.8,255.9 L567.0,259.1 Z" fill="#dadada"/>
<path d="M562.5999999999999,268.0 L564.8,264.79999999999995 L567.0,268.0 Z" fill="#bdbdbd"/>
<path d="M562.5999999999999,277.40000000000003 L564.8,274.2 L567.0,277.40000000000003 Z" fill="#8a8a8a"/>
<path d="M562.5999999999999,287.20000000000005 L564.8,284.0 L567.0,287.20000000000005 Z" fill="#555"/>
<path d="M484.95,318.4 L491.3,322.5 L484.95,326.6 Z M497.65000000000003,318.4 L491.3,322.5 L497.65000000000003,326.6 Z" fill="#d0cbec" stroke="#2e2e4a" stroke-width="0.9" stroke-linejoin="round"/>
<path d="M491.3,322.5 V316.9" stroke="#999" stroke-width="0.7"/>
<path d="M487.3,317.2 A4,4 0 0 1 495.3,317.2 Z" fill="#d0cbec" stroke="#2e2e4a" stroke-width="0.9"/>
<path d="M461.84999999999997,378.7 L468.7,382.8 L461.84999999999997,386.90000000000003 Z M475.55,378.7 L468.7,382.8 L475.55,386.90000000000003 Z" fill="#d0cbec" stroke="#2e2e4a" stroke-width="0.9" stroke-linejoin="round"/>
<path d="M468.7,382.8 V377.2" stroke="#999" stroke-width="0.7"/>
<path d="M464.7,377.5 A4,4 0 0 1 472.7,377.5 Z" fill="#d0cbec" stroke="#2e2e4a" stroke-width="0.9"/>
<path d="M500,379.0 H490.59999999999997 Q489.4,379.0 489.4,380.2 V385.57 H494.74 A7.3,7.3 0 1 0 500,379.0 Z" fill="#fff" stroke="#1e1e1e" stroke-width="1.25" stroke-linejoin="round"/>
<path d="M496.71,384.84 A3.65,3.65 0 1 1 499.45,389.95" fill="none" stroke="#1e1e1e" stroke-width="1.05"/>
<path d="M495.11,384.54 l2.40,-1.7 l0.2,3.3 z" fill="#1e1e1e"/>
<path d="M95.7,86.30000000000001 L102.2,90.4 L95.7,94.5 Z M108.7,86.30000000000001 L102.2,90.4 L108.7,94.5 Z" fill="#d0cbec" stroke="#2e2e4a" stroke-width="0.9" stroke-linejoin="round"/>
<path d="M102.2,90.4 V84.80000000000001" stroke="#999" stroke-width="0.7"/>
<path d="M98.2,85.10000000000001 A4,4 0 0 1 106.2,85.10000000000001 Z" fill="#d0cbec" stroke="#2e2e4a" stroke-width="0.9"/>
<path d="M117.8,338.9 L124.5,342.7 L117.8,346.5 Z M131.2,338.9 L124.5,342.7 L131.2,346.5 Z" fill="#d0cbec" stroke="#2e2e4a" stroke-width="0.9" stroke-linejoin="round"/>
<path d="M124.5,342.7 V337.4" stroke="#999" stroke-width="0.7"/>
<path d="M120.5,337.7 A4,4 0 0 1 128.5,337.7 Z" fill="#d0cbec" stroke="#2e2e4a" stroke-width="0.9"/>
<text x="63.8" y="102.8" font-size="6" textLength="28.7" lengthAdjust="spacingAndGlyphs" fill="#262626" stroke="#262626" stroke-width="0.1" >Compressor</text>
<text x="105.6" y="114.4" font-size="6" textLength="21.3" lengthAdjust="spacingAndGlyphs" fill="#262626" stroke="#262626" stroke-width="0.1" >Gassifier</text>
<text x="51" y="211" font-size="6" textLength="22" lengthAdjust="spacingAndGlyphs" fill="#262626" stroke="#262626" stroke-width="0.1" >Coal Mill</text>
<text x="60" y="289.4" font-size="6" textLength="31" lengthAdjust="spacingAndGlyphs" fill="#262626" stroke="#262626" stroke-width="0.1" >Slurry Pump</text>
<text x="102" y="294.5" font-size="6" textLength="27" lengthAdjust="spacingAndGlyphs" fill="#262626" stroke="#262626" stroke-width="0.1" >Radiant Gas</text>
<text x="102" y="301.5" font-size="6" textLength="14" lengthAdjust="spacingAndGlyphs" fill="#262626" stroke="#262626" stroke-width="0.1" >Boiler</text>
<text x="206" y="128" font-size="6" textLength="39" lengthAdjust="spacingAndGlyphs" fill="#262626" stroke="#262626" stroke-width="0.1" >Water Scrubber</text>
<text x="188" y="223" font-size="6" textLength="27" lengthAdjust="spacingAndGlyphs" fill="#262626" stroke="#262626" stroke-width="0.1" >Convective</text>
<text x="188" y="229.4" font-size="6" textLength="32.6" lengthAdjust="spacingAndGlyphs" fill="#262626" stroke="#262626" stroke-width="0.1" >Syngas Cooler</text>
<text x="167" y="287" font-size="6" textLength="36.8" lengthAdjust="spacingAndGlyphs" fill="#262626" stroke="#262626" stroke-width="0.1" >Feedwater Stop</text>
<text x="167" y="293.4" font-size="6" textLength="41.4" lengthAdjust="spacingAndGlyphs" fill="#262626" stroke="#262626" stroke-width="0.1" >and Check Valve</text>
<text x="216" y="277" font-size="6" textLength="27.6" lengthAdjust="spacingAndGlyphs" fill="#262626" stroke="#262626" stroke-width="0.1" >Feed Water</text>
<text x="223" y="283" font-size="6" textLength="13.5" lengthAdjust="spacingAndGlyphs" fill="#262626" stroke="#262626" stroke-width="0.1" >Pump</text>
<text x="231" y="100.8" font-size="6" textLength="40.5" lengthAdjust="spacingAndGlyphs" fill="#262626" stroke="#262626" stroke-width="0.1" >Heat Exchanger</text>
<text x="342" y="100.8" font-size="6" textLength="40.5" lengthAdjust="spacingAndGlyphs" fill="#262626" stroke="#262626" stroke-width="0.1" >Heat Exchanger</text>
<text x="348.4" y="161.4" font-size="6" textLength="10.6" lengthAdjust="spacingAndGlyphs" fill="#262626" stroke="#262626" stroke-width="0.1" >Filter</text>
<text x="495" y="130.3" font-size="6" textLength="33.8" lengthAdjust="spacingAndGlyphs" fill="#262626" stroke="#262626" stroke-width="0.1" >CO2 Capture</text>
<text x="439.7" y="193.5" font-size="6" textLength="36.3" lengthAdjust="spacingAndGlyphs" fill="#262626" stroke="#262626" stroke-width="0.1" >Steam Turbine</text>
<text x="497.9" y="198" font-size="6" textLength="26.1" lengthAdjust="spacingAndGlyphs" fill="#262626" stroke="#262626" stroke-width="0.1" >Generator</text>
<text x="497" y="236.3" font-size="6" textLength="29" lengthAdjust="spacingAndGlyphs" fill="#262626" stroke="#262626" stroke-width="0.1" >Gas Turbine</text>
<text x="497" y="242.5" font-size="6" textLength="19.5" lengthAdjust="spacingAndGlyphs" fill="#262626" stroke="#262626" stroke-width="0.1" >Exhaust</text>
<text x="289.5" y="277" font-size="6" textLength="55.5" lengthAdjust="spacingAndGlyphs" fill="#262626" stroke="#262626" stroke-width="0.1" >Heat Steam Recovery</text>
<text x="299.6" y="283" font-size="6" textLength="39" lengthAdjust="spacingAndGlyphs" fill="#262626" stroke="#262626" stroke-width="0.1" >Turbine (HSRT)</text>
<text x="409" y="264.3" font-size="6" textLength="36" lengthAdjust="spacingAndGlyphs" fill="#262626" stroke="#262626" stroke-width="0.1" >Steam Turbine</text>
<text x="480" y="270" font-size="6" textLength="26" lengthAdjust="spacingAndGlyphs" fill="#262626" stroke="#262626" stroke-width="0.1" >Generator</text>
<text x="382.5" y="290.6" font-size="6" textLength="29.5" lengthAdjust="spacingAndGlyphs" fill="#262626" stroke="#262626" stroke-width="0.1" >Main Steam</text>
<text x="383" y="297.6" font-size="6" textLength="27.6" lengthAdjust="spacingAndGlyphs" fill="#262626" stroke="#262626" stroke-width="0.1" >Stop Valve</text>
<text x="278.4" y="314" font-size="6" textLength="27.4" lengthAdjust="spacingAndGlyphs" fill="#262626" stroke="#262626" stroke-width="0.1" >Condenser</text>
<text x="406.8" y="333.6" font-size="6" textLength="54.8" lengthAdjust="spacingAndGlyphs" fill="#262626" stroke="#262626" stroke-width="0.1" >Cooling Water Return</text>
<text x="381.5" y="394.6" font-size="6" textLength="36.5" lengthAdjust="spacingAndGlyphs" fill="#262626" stroke="#262626" stroke-width="0.1" >Cooling Water</text>
<text x="276" y="418.7" font-size="6" textLength="30.8" lengthAdjust="spacingAndGlyphs" fill="#262626" stroke="#262626" stroke-width="0.1" >Condensate</text>
<text x="284.3" y="425.7" font-size="6" textLength="14" lengthAdjust="spacingAndGlyphs" fill="#262626" stroke="#262626" stroke-width="0.1" >Pump</text>
<text x="465" y="400.6" font-size="6" textLength="48.7" lengthAdjust="spacingAndGlyphs" fill="#262626" stroke="#262626" stroke-width="0.1" >Condenser Cooling</text>
<text x="473" y="407.5" font-size="6" textLength="32" lengthAdjust="spacingAndGlyphs" fill="#262626" stroke="#262626" stroke-width="0.1" >Water Pump</text>
<text x="540.7" y="409.6" font-size="6" textLength="36.3" lengthAdjust="spacingAndGlyphs" fill="#262626" stroke="#262626" stroke-width="0.1" >Cooling Tower</text>
<text x="117.8" y="354.4" font-size="6" textLength="13.2" lengthAdjust="spacingAndGlyphs" fill="#262626" stroke="#262626" stroke-width="0.1" >valve</text>
<g opacity="0.35">
<text x="197" y="246" font-size="26" textLength="228" lengthAdjust="spacingAndGlyphs" fill="none" stroke="#e2e2e2" stroke-width="0.9">dreamstime</text>
<path d="M370.5,213.5 m-2,0 a2,2 0 1 1 4,0 a4,4 0 1 1 -8,0 a6,6 0 1 1 12,0 a8,8 0 1 1 -16,0 a10,10 0 1 1 20,0" fill="none" stroke="#e2e2e2" stroke-width="0.9"/>
</g>
<rect x="0" y="317.8" width="245.3" height="82" fill="#d7d7d7" style="mix-blend-mode:multiply"/>
<g opacity="0.72">
<path d="M28,332.5 H48 V338 H34 V354.3 H56.2 V346 H62 V360 H28 Z" fill="#f5f5f5"/>
<path d="M49,335.2 A10.5,10.5 0 0 1 59.2,345.5" fill="none" stroke="#f5f5f5" stroke-width="5.4"/>
<path d="M72.7,337 h26.3 v22.7 h-26.3 z M77.2,340.8 v15.2 h17.4 v-15.2 z" fill="#f5f5f5" fill-rule="evenodd"/>
<path d="M80,343.5 h12 M86,341 l-5,6 M82,346.5 h9 M80,350 h12 M80,353.5 h12" stroke="#f5f5f5" stroke-width="2.2"/>
<path d="M105.5,340 h28.5 v13 h-28.5 z M109.5,343.5 v6 h20.5 v-6 z" fill="#f5f5f5" fill-rule="evenodd"/>
<path d="M119.8,335 v23.5 M104.5,357.7 h30 M129,352 l4.5,5" stroke="#f5f5f5" stroke-width="3.2"/>
<path d="M150,335.5 l-9.5,10 M150,335.5 l9,9 M143,348.5 h11 v8 M143.5,348.5 v10 h13.5 M162,338 v16.5 M166.5,335 v24.5 h-3" fill="none" stroke="#f5f5f5" stroke-width="3.2"/>
<path d="M176,337.8 h16 M184,335 v3 M171,342.2 h27 M175.5,345.8 h18.5 v7.2 h-18.5 z M175.5,349.4 h18.5 M171,359 l3.5,-4 M178.5,355 v3.8 h13 M195,355 l3.5,4" fill="none" stroke="#f5f5f5" stroke-width="2.6"/>
</g>
<text x="29" y="382" font-size="12.6" textLength="156.5" lengthAdjust="spacingAndGlyphs" fill="#e0e0e0">ID:457203830034792530</text>
</svg>
</body></html>
